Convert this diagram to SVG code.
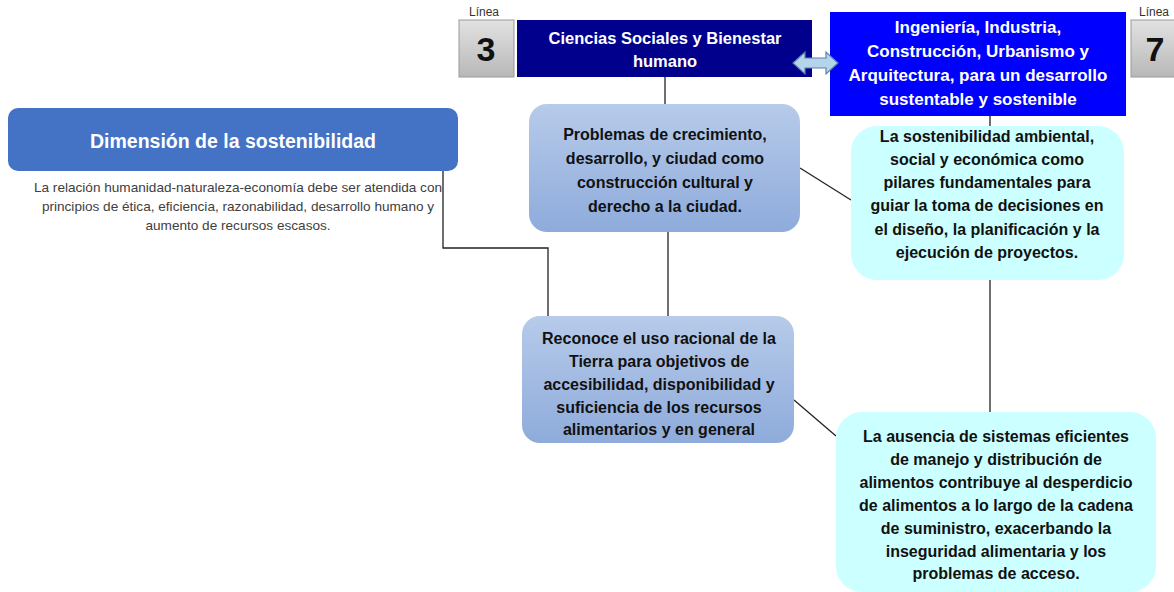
<svg xmlns="http://www.w3.org/2000/svg" width="1174" height="592" viewBox="0 0 1174 592">
<defs>
<linearGradient id="gBlue" x1="0" y1="0" x2="0" y2="1"><stop offset="0" stop-color="#B7CBEA"/><stop offset="1" stop-color="#8EABDB"/></linearGradient>
<linearGradient id="gGray" x1="0" y1="0" x2="0" y2="1"><stop offset="0" stop-color="#E2E2E2"/><stop offset="1" stop-color="#B8B8B8"/></linearGradient>
<style>
.t{font-family:"Liberation Sans",Arial,sans-serif;text-anchor:middle}
.w{fill:#fff;font-weight:bold;font-size:16.5px}
.w2{fill:#fff;font-weight:bold;font-size:17px}
.b{fill:#111;font-weight:bold;font-size:16px}
.d{fill:#404040;font-size:13.6px}
.ln{fill:#333;font-size:12px}
.num{fill:#111;font-weight:bold;font-size:34px}
.c{stroke:#222;stroke-width:1.3;fill:none}
</style>
</defs>
<rect width="1174" height="592" fill="#fff"/>
<g id="connectors">
<path class="c" d="M665 77V104"/>
<path class="c" d="M668 232V316"/>
<path class="c" d="M443 171V248H548V316"/>
<path class="c" d="M800 168L851 200"/>
<path class="c" d="M990 116V126"/>
<path class="c" d="M990 280V412"/>
<path class="c" d="M794 400L836 436"/>
</g>
<g id="linea3">
<text class="t ln" x="484" y="16">Línea</text>
<rect x="459" y="20" width="55" height="57" fill="url(#gGray)" stroke="#999" stroke-width="1"/>
<text class="t num" x="486" y="61">3</text>
</g>
<g id="ciencias">
<rect x="517" y="20" width="295" height="57" fill="#00008C"/>
<text class="t w" x="665" y="44">Ciencias Sociales y Bienestar</text>
<text class="t w" x="665" y="67">humano</text>
</g>
<g id="ingenieria">
<rect x="830" y="12" width="296" height="104" fill="#0000FF"/>
<text class="t w2" x="978" y="33">Ingeniería, Industria,</text>
<text class="t w2" x="978" y="57">Construcción, Urbanismo y</text>
<text class="t w2" x="978" y="81">Arquitectura, para un desarrollo</text>
<text class="t w2" x="978" y="105">sustentable y sostenible</text>
</g>
<g id="linea7">
<text class="t ln" x="1154" y="16">Línea</text>
<rect x="1131" y="20" width="50" height="57" fill="url(#gGray)" stroke="#999" stroke-width="1"/>
<text class="t num" x="1155" y="61">7</text>
</g>
<g id="dimension">
<rect x="8" y="108" width="450" height="63" rx="10" fill="#4472C4"/>
<text class="t" x="233" y="148" fill="#fff" font-weight="bold" font-size="19.5">Dimensión de la sostenibilidad</text>
<text class="t d" x="238" y="192">La relación humanidad-naturaleza-economía debe ser atendida con</text>
<text class="t d" x="238" y="211">principios de ética, eficiencia, razonabilidad, desarrollo humano y</text>
<text class="t d" x="238" y="230">aumento de recursos escasos.</text>
</g>
<g id="problemas">
<rect x="529" y="104" width="271" height="128" rx="18" fill="url(#gBlue)"/>
<text class="t b" x="665" y="140">Problemas de crecimiento,</text>
<text class="t b" x="665" y="164">desarrollo, y ciudad como</text>
<text class="t b" x="665" y="188">construcción cultural y</text>
<text class="t b" x="665" y="212">derecho a la ciudad.</text>
</g>
<g id="reconoce">
<rect x="522" y="316" width="272" height="127" rx="18" fill="url(#gBlue)"/>
<text class="t b" x="659" y="344">Reconoce el uso racional de la</text>
<text class="t b" x="659" y="367">Tierra para objetivos de</text>
<text class="t b" x="659" y="390">accesibilidad, disponibilidad y</text>
<text class="t b" x="659" y="413">suficiencia de los recursos</text>
<text class="t b" x="659" y="435">alimentarios y en general</text>
</g>
<g id="sostenibilidad">
<rect x="851" y="126" width="273" height="154" rx="26" fill="#CCFFFF"/>
<text class="t b" x="987" y="142">La sostenibilidad ambiental,</text>
<text class="t b" x="987" y="165">social y económica como</text>
<text class="t b" x="987" y="188">pilares fundamentales para</text>
<text class="t b" x="987" y="211">guiar la toma de decisiones en</text>
<text class="t b" x="987" y="235">el diseño, la planificación y la</text>
<text class="t b" x="987" y="258">ejecución de proyectos.</text>
</g>
<g id="ausencia">
<rect x="836" y="412" width="320" height="180" rx="26" fill="#CCFFFF"/>
<text class="t b" x="996" y="442">La ausencia de sistemas eficientes</text>
<text class="t b" x="996" y="465">de manejo y distribución de</text>
<text class="t b" x="996" y="488">alimentos contribuye al desperdicio</text>
<text class="t b" x="996" y="511">de alimentos a lo largo de la cadena</text>
<text class="t b" x="996" y="534">de suministro, exacerbando la</text>
<text class="t b" x="996" y="557">inseguridad alimentaria y los</text>
<text class="t b" x="996" y="579">problemas de acceso.</text>
</g>
<g id="double-arrow">
<path d="M793 63L805 52V58H826V52L838 63L826 74V68H805V74Z" fill="#B4D4EC" stroke="#5C7FA8" stroke-width="1.2"/>
</g>
</svg>
